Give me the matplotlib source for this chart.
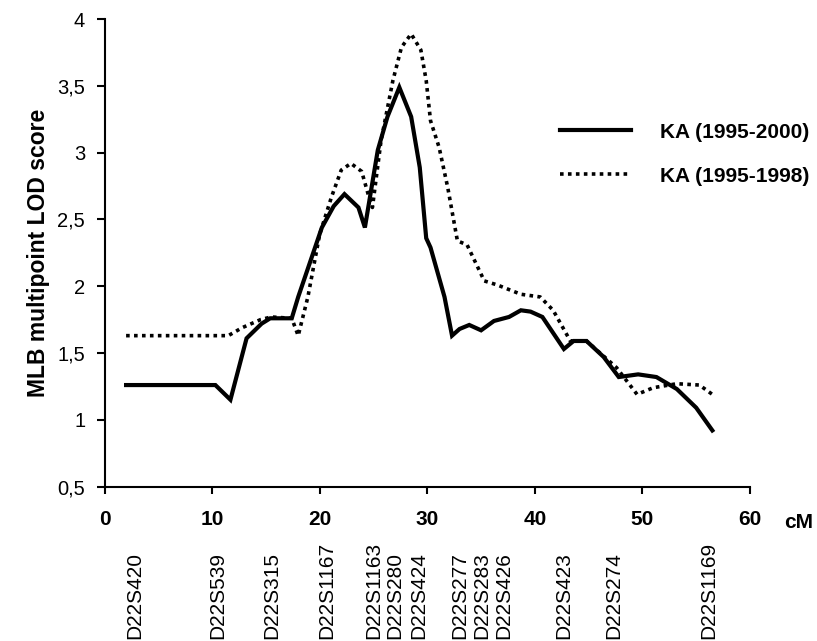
import matplotlib
matplotlib.use("Agg")
import matplotlib.pyplot as plt
import matplotlib.transforms as mtransforms

plt.rcParams['font.family'] = ['Liberation Sans', 'DejaVu Sans']

# KA (1995-2000), solid line
pos_2000 = [2.0, 10.3, 11.7, 13.2, 14.6, 15.4, 17.4, 18.0, 20.2, 21.3, 22.3, 23.6, 24.2,
            25.4, 26.3, 27.4, 28.5, 29.3, 29.9, 30.3, 31.6, 32.3, 33.0, 33.9, 35.0,
            36.2, 37.6, 38.7, 39.6, 40.7, 42.7, 43.6, 44.8, 46.4, 47.8, 49.6, 51.3,
            53.2, 55.0, 56.5]
lod_2000 = [1.26, 1.26, 1.15, 1.61, 1.72, 1.76, 1.76, 1.92, 2.44, 2.60, 2.69, 2.59, 2.44,
            3.02, 3.27, 3.49, 3.27, 2.89, 2.36, 2.29, 1.92, 1.63, 1.68, 1.71, 1.67,
            1.74, 1.77, 1.82, 1.81, 1.77, 1.53, 1.59, 1.59, 1.47, 1.32, 1.34, 1.32,
            1.23, 1.09, 0.92]

# KA (1995-1998), dotted line
pos_1998 = [2.0, 11.5, 12.8, 14.5, 15.5, 17.4, 18.0, 18.9, 20.0, 21.1, 22.0, 22.9, 23.9,
            24.5, 24.9, 25.7, 26.8, 27.6, 28.5, 29.4, 29.9, 30.3, 31.1, 31.9, 32.8,
            33.7, 35.3, 36.5, 38.7, 40.5, 41.7, 43.3, 44.8, 47.6, 49.5, 51.0, 53.2,
            55.3, 56.5]
lod_1998 = [1.63, 1.63, 1.69, 1.75, 1.77, 1.76, 1.63, 1.92, 2.39, 2.67, 2.87, 2.92, 2.86,
            2.69, 2.59, 3.09, 3.54, 3.79, 3.89, 3.77, 3.54, 3.24, 3.04, 2.74, 2.34,
            2.31, 2.04, 2.01, 1.94, 1.92, 1.82, 1.59, 1.59, 1.39, 1.19, 1.24, 1.27,
            1.26, 1.19]

markers = ["D22S420", "D22S539", "D22S315", "D22S1167", "D22S1163", "D22S280", "D22S424",
           "D22S277", "D22S283", "D22S426", "D22S423", "D22S274", "D22S1169"]
marker_pos = [2.8, 10.5, 15.5, 20.7, 25.0, 27.0, 29.2, 33.0, 35.1, 37.1, 42.7, 47.3, 56.2]

y_ticks = [0.5, 1, 1.5, 2, 2.5, 3, 3.5, 4]
y_tick_labels = ["0,5", "1", "1,5", "2", "2,5", "3", "3,5", "4"]
x_ticks = [0, 10, 20, 30, 40, 50, 60]

fig = plt.figure(figsize=(8.17, 6.41), dpi=100)
ax = fig.add_axes([0.128, 0.241, 0.790, 0.729])

ax.plot(pos_2000, lod_2000, color='black', lw=3.0, solid_joinstyle='miter',
        label="KA (1995-2000)")
ax.plot(pos_1998, lod_1998, color='black', lw=2.6, linestyle=(0, (1.0, 1.2)),
        label="KA (1995-1998)")

ax.set_xlim(0, 60)
ax.set_ylim(0.5, 4)
ax.set_xticks(x_ticks)
ax.set_yticks(y_ticks)
ax.set_yticklabels(y_tick_labels)
for s in ['top', 'right']:
    ax.spines[s].set_visible(False)
for s in ['left', 'bottom']:
    ax.spines[s].set_linewidth(1.5)
ax.tick_params(axis='y', direction='out', length=6, width=1.5, pad=8, labelsize=14.5)
ax.tick_params(axis='x', direction='out', length=5, width=1.5, pad=12, labelsize=15)
for lab in ax.get_xticklabels():
    lab.set_fontweight('bold')

ax.set_ylabel("MLB multipoint LOD score", fontsize=16.5, fontweight='bold', labelpad=5)

# unit label to the right of the last tick
trans = mtransforms.blended_transform_factory(ax.transData, fig.transFigure)
ax.text(64.5, 1 - 522 / 641, "cM", transform=trans, fontsize=15, fontweight='bold',
        ha='center', va='center', clip_on=False)

# marker names under the axis
for name, p in zip(markers, marker_pos):
    ax.text(p, 1 - 639 / 641, name, transform=trans, rotation=90, fontsize=15,
            ha='center', va='bottom', clip_on=False)

leg = ax.legend(loc='center left', bbox_to_anchor=(560 / 817, 1 - 154 / 641),
                bbox_transform=fig.transFigure, frameon=False, borderpad=0,
                borderaxespad=0, handlelength=3.4, handletextpad=1.4,
                labelspacing=1.2, prop={'size': 15, 'weight': 'bold'})

fig.savefig("out.png", dpi=100)
